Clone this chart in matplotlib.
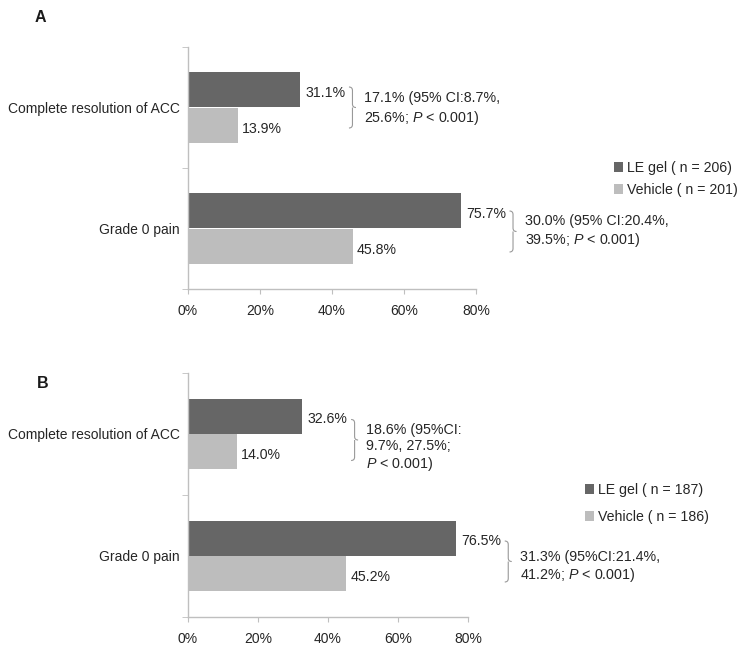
import numpy as np
import matplotlib
matplotlib.use("Agg")
import matplotlib.pyplot as plt
from matplotlib.path import Path
from matplotlib.patches import PathPatch
from matplotlib.transforms import IdentityTransform

plt.rcParams['font.family'] = ['Liberation Sans', 'DejaVu Sans']
plt.rcParams['mathtext.fontset'] = 'custom'
plt.rcParams['mathtext.rm'] = 'Liberation Sans'
plt.rcParams['mathtext.it'] = 'Liberation Sans:italic'

categories = ["Complete resolution of ACC", "Grade 0 pain"]
xticks = [0, 20, 40, 60, 80]
xticklabels = ["0%", "20%", "40%", "60%", "80%"]

a_le = [31.1, 75.7]
a_veh = [13.9, 45.8]
a_n = [206, 201]
a_diff = ["17.1% (95% CI:8.7%,\n25.6%; $P$ < 0.001)",
          "30.0% (95% CI:20.4%,\n39.5%; $P$ < 0.001)"]

b_le = [32.6, 76.5]
b_veh = [14.0, 45.2]
b_n = [187, 186]
b_diff = ["18.6% (95%CI:\n9.7%, 27.5%;\n$P$ < 0.001)",
          "31.3% (95%CI:21.4%,\n41.2%; $P$ < 0.001)"]

dark = "#666666"
light = "#bdbdbd"
axcol = "#bfbfbf"
txt = "#262626"

W, H = 742, 651
fig = plt.figure(figsize=(W / 100, H / 100), dpi=100)


def brace(x0, yc, half):
    # curly brace "}" in pixel coords
    w = 3.5
    verts = [(x0, yc + half), (x0 + w, yc + half), (x0 + w, yc + half - w),
             (x0 + w, yc + w),
             (x0 + w, yc), (x0 + 2 * w, yc),
             (x0 + w, yc), (x0 + w, yc - w),
             (x0 + w, yc - half + w),
             (x0 + w, yc - half), (x0, yc - half)]
    codes = [Path.MOVETO, Path.CURVE3, Path.CURVE3, Path.LINETO,
             Path.CURVE3, Path.CURVE3, Path.MOVETO, Path.CURVE3,
             Path.LINETO, Path.CURVE3, Path.CURVE3]
    p = PathPatch(Path(verts, codes), fill=False, ec="#999999", lw=0.8,
                  transform=IdentityTransform())
    fig.add_artist(p)


def panel(rect, le, veh, n, diffs, label, label_xy, leg_xy, leg_space, text_dy, brace_dy, lsp):
    ax = fig.add_axes(rect)
    y = np.arange(len(categories))
    h = 0.29
    ax.barh(y - h / 2, le, height=h, color=dark, label="LE gel ( n = %d)" % n[0])
    ax.barh(y + h / 2, veh, height=h, color=light, label="Vehicle ( n = %d)" % n[1])
    ax.set_xlim(0, 80)
    ax.set_ylim(1.5, -0.5)
    ax.set_xticks(xticks, xticklabels)
    ax.set_yticks(y, categories)
    ax.set_yticks([-0.5, 0.5, 1.5], minor=True)
    ax.tick_params(axis='y', which='major', length=0, pad=6, labelsize=10, labelcolor=txt)
    ax.tick_params(axis='y', which='minor', length=4, color=axcol, direction='out')
    ax.tick_params(axis='x', length=3.5, color=axcol, pad=7, labelsize=10, labelcolor=txt)
    for s in ['top', 'right']:
        ax.spines[s].set_visible(False)
    for s in ['left', 'bottom']:
        ax.spines[s].set_color(axcol)
        ax.spines[s].set_linewidth(1.0)

    for i in range(len(categories)):
        ax.annotate("%.1f%%" % le[i], (le[i], y[i] - h / 2), xytext=(4, -2),
                    textcoords='offset points', va='center', ha='left',
                    fontsize=10.2, color=txt)
        ax.annotate("%.1f%%" % veh[i], (veh[i], y[i] + h / 2), xytext=(3, -2.5),
                    textcoords='offset points', va='center', ha='left',
                    fontsize=10.2, color=txt)

    fig.canvas.draw()
    for i in range(len(categories)):
        px, py = ax.transData.transform((le[i], y[i]))
        x0 = px + 49
        brace(x0, py - brace_dy[i], 20.5)
        fig.text((x0 + 15) / W, (py - text_dy[i]) / H, diffs[i], ha='left', va='center',
                 fontsize=10.3, color=txt, linespacing=lsp)

    fig.text(label_xy[0] / W, 1 - label_xy[1] / H, label, fontsize=11.5,
             fontweight='bold', color="#1a1a1a", ha='left', va='center')
    ax.legend(loc='center left', bbox_to_anchor=(leg_xy[0] / W, 1 - leg_xy[1] / H),
              bbox_transform=fig.transFigure, frameon=False, borderpad=0,
              borderaxespad=0, handlelength=0.65, handleheight=0.65,
              handletextpad=0.25, labelspacing=leg_space, fontsize=10.2,
              labelcolor=txt)
    return ax


panel([188 / W, 1 - 289 / H, 288 / W, 242 / H], a_le, a_veh, a_n, a_diff, "A",
      (35, 17), (614, 179), 0.58, [1.5, 3], [0, 3], 1.3)
panel([188 / W, 1 - 617 / H, 280 / W, 244 / H], b_le, b_veh, b_n, b_diff, "B",
      (37, 383), (585, 503.5), 0.92, [14, 11], [6, 5.5], 1.13)

fig.savefig("out.png", dpi=100)
